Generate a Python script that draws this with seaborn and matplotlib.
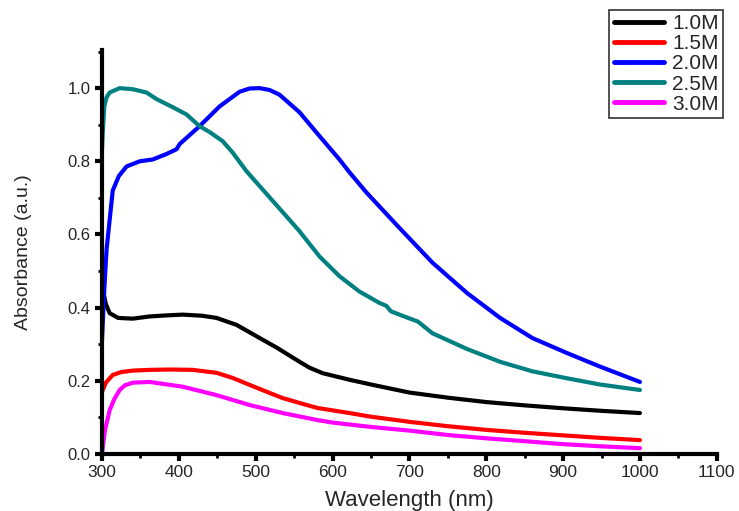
import numpy as np
import pandas as pd
import seaborn as sns
import matplotlib.pyplot as plt
from matplotlib.ticker import MultipleLocator, FormatStrFormatter

# absorbance spectra
wl_10 = [300, 302, 305, 310, 321, 340, 362, 385, 405, 430, 449, 475, 501, 528, 554, 570, 587, 622, 650, 700, 750, 800, 850, 900, 950, 1000]
ab_10 = [0.43, 0.44, 0.41, 0.385, 0.372, 0.37, 0.376, 0.379, 0.381, 0.378, 0.372, 0.353, 0.322, 0.29, 0.256, 0.236, 0.221, 0.203, 0.19, 0.168, 0.154, 0.142, 0.133, 0.125, 0.118, 0.112]

wl_15 = [300, 305, 314, 325, 340, 362, 390, 418, 449, 470, 492, 512, 535, 558, 580, 622, 650, 700, 750, 800, 850, 900, 950, 1000]
ab_15 = [0.17, 0.195, 0.216, 0.224, 0.228, 0.23, 0.231, 0.23, 0.222, 0.208, 0.189, 0.172, 0.153, 0.139, 0.126, 0.112, 0.102, 0.088, 0.076, 0.066, 0.058, 0.051, 0.044, 0.038]

wl_20 = [300, 303, 306, 314, 322, 332, 349, 366, 384, 397, 401, 427, 453, 479, 492, 505, 518, 531, 557, 583, 609, 622, 644, 687, 730, 775, 818, 860, 905, 948, 1000]
ab_20 = [0.31, 0.45, 0.56, 0.72, 0.76, 0.786, 0.80, 0.805, 0.82, 0.833, 0.847, 0.896, 0.95, 0.99, 0.999, 1.0, 0.995, 0.982, 0.934, 0.869, 0.805, 0.77, 0.715, 0.618, 0.523, 0.44, 0.372, 0.317, 0.276, 0.239, 0.197]

wl_25 = [300, 301, 303, 306, 310, 323, 340, 358, 371, 392, 410, 427, 440, 457, 470, 488, 501, 520, 544, 557, 583, 609, 635, 661, 670, 676, 687, 711, 730, 775, 818, 860, 905, 948, 1000]
ab_25 = [0.83, 0.88, 0.95, 0.975, 0.988, 1.0, 0.997, 0.988, 0.97, 0.948, 0.928, 0.896, 0.88, 0.855, 0.824, 0.773, 0.742, 0.697, 0.64, 0.609, 0.54, 0.486, 0.444, 0.413, 0.405, 0.39, 0.381, 0.362, 0.33, 0.287, 0.252, 0.226, 0.207, 0.19, 0.175]

wl_30 = [300, 302, 304, 310, 316, 323, 330, 340, 362, 385, 405, 449, 492, 535, 580, 600, 650, 700, 750, 800, 850, 900, 950, 1000]
ab_30 = [0.0, 0.035, 0.066, 0.12, 0.15, 0.175, 0.188, 0.195, 0.197, 0.19, 0.184, 0.161, 0.134, 0.112, 0.093, 0.086, 0.074, 0.064, 0.052, 0.043, 0.035, 0.027, 0.021, 0.016]

labels = ["1.0M", "1.5M", "2.0M", "2.5M", "3.0M"]
colors = ["#000000", "#ff0000", "#0000ff", "#008080", "#ff00ff"]

frames = []
for lab, x, y in zip(labels, [wl_10, wl_15, wl_20, wl_25, wl_30], [ab_10, ab_15, ab_20, ab_25, ab_30]):
    frames.append(pd.DataFrame({"Wavelength": x, "Absorbance": y, "conc": lab}))
df = pd.concat(frames, ignore_index=True)

sns.set_style("ticks")
plt.rcParams["font.family"] = ["Liberation Sans", "DejaVu Sans"]

fig = plt.figure(figsize=(7.39, 5.11), dpi=100)
ax = fig.add_axes([0.138, 0.1115, 0.832, 0.7905])

sns.lineplot(data=df, x="Wavelength", y="Absorbance", hue="conc", hue_order=labels,
             palette=dict(zip(labels, colors)), linewidth=3, sort=False,
             estimator=None, ax=ax)
for ln in ax.get_lines():
    ln.set_solid_joinstyle("round")

ax.set_xlim(300, 1100)
ax.set_ylim(0, 1.104)
ax.xaxis.set_major_locator(MultipleLocator(100))
ax.xaxis.set_minor_locator(MultipleLocator(50))
ax.yaxis.set_major_locator(MultipleLocator(0.2))
ax.yaxis.set_minor_locator(MultipleLocator(0.1))
ax.yaxis.set_major_formatter(FormatStrFormatter("%.1f"))

for s in ["top", "right"]:
    ax.spines[s].set_visible(False)
for s in ["left", "bottom"]:
    ax.spines[s].set_linewidth(3)
    ax.spines[s].set_color("black")

ax.tick_params(which="major", length=5, width=3, color="black", pad=3)
ax.tick_params(axis="x", labelsize=12.5)
ax.tick_params(axis="y", labelsize=12)
ax.tick_params(which="minor", length=3, width=2, color="black")

ax.set_xlabel("Wavelength (nm)", fontsize=16, labelpad=7)
ax.set_ylabel("Absorbance (a.u.)", fontsize=14, labelpad=26)

leg = ax.legend(loc="upper right", bbox_to_anchor=(0.978, 0.98), bbox_transform=fig.transFigure,
                borderaxespad=0, fontsize=15, handlelength=2.4, labelspacing=0.05,
                handletextpad=0.4, borderpad=0.2, fancybox=False, frameon=True, title=None)
leg.get_frame().set_edgecolor("black")
leg.get_frame().set_linewidth(1.2)
for line in leg.get_lines():
    line.set_linewidth(3.5)

fig.savefig("out.png", dpi=100)
